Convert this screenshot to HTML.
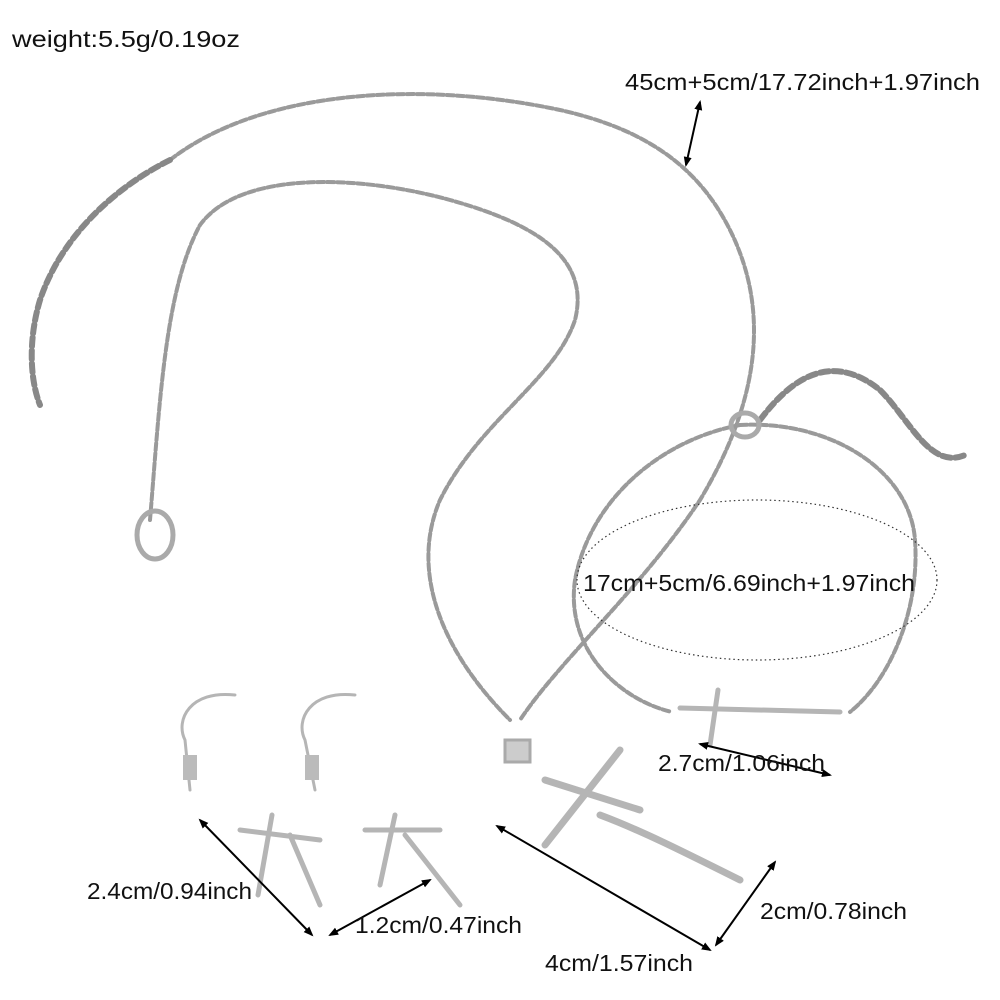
<!DOCTYPE html>
<html><head><meta charset="utf-8"><style>
html,body{margin:0;padding:0;background:#fff;}
svg{display:block}
text{font-family:"Liberation Sans",sans-serif;fill:#111;}
</style></head><body>
<svg width="1000" height="1000" viewBox="0 0 1000 1000" xmlns="http://www.w3.org/2000/svg">
<defs>
<marker id="a" markerWidth="10" markerHeight="10" refX="8" refY="5" orient="auto-start-reverse" markerUnits="userSpaceOnUse">
<path d="M0,1 L10,5 L0,9 Z" fill="#000"/></marker>
</defs>
<g fill="none" stroke="#9a9a9a" stroke-width="4" stroke-dasharray="7 3" stroke-linecap="round">
<path d="M170,160 C260,90 420,80 560,110 C650,130 700,170 730,230 C770,310 760,400 700,500 C640,590 560,660 520,720"/>
<path d="M170,160 C110,190 60,240 40,300 C28,340 30,380 40,405" stroke="#888" stroke-width="6" stroke-dasharray="9 4"/>
<path d="M150,520 C160,400 165,290 200,225 C240,170 360,175 450,200 C540,225 590,260 575,320 C555,380 480,420 440,500 C410,570 440,650 510,720"/>
<path d="M740,425 C660,440 590,500 575,580 C565,650 620,700 672,712"/>
<path d="M740,425 C830,420 910,470 915,540 C920,610 890,680 850,712"/>
<path d="M760,420 C790,380 830,350 880,390 C910,420 930,470 965,455" stroke="#888" stroke-width="6" stroke-dasharray="9 4"/>
</g>
<ellipse cx="155" cy="535" rx="18" ry="24" fill="none" stroke="#aaa" stroke-width="5"/>
<ellipse cx="745" cy="425" rx="14" ry="12" fill="none" stroke="#aaa" stroke-width="5"/>
<g stroke="#b5b5b5" stroke-width="7" fill="none" stroke-linecap="round">
<path d="M620,750 L545,845"/>
<path d="M545,780 L640,810"/>
<path d="M600,815 C640,830 680,850 740,880"/>
<rect x="505" y="740" width="25" height="22" fill="#ccc" stroke="#aaa" stroke-width="3"/>
<path d="M718,690 L710,745" stroke-width="5"/>
<path d="M680,708 L840,712" stroke-width="5"/>
<path d="M235,695 C190,690 175,720 185,740 L190,790" stroke-width="3"/>
<path d="M355,695 C310,690 295,720 305,740 L315,790" stroke-width="3"/>
<path d="M272,815 L258,895 M240,830 L320,840 M290,835 L320,905" stroke-width="5"/>
<path d="M395,815 L380,885 M365,830 L440,830 M405,835 L460,905" stroke-width="5"/>
</g>
<rect x="183" y="755" width="14" height="25" fill="#bbb"/>
<rect x="305" y="755" width="14" height="25" fill="#bbb"/>
<ellipse cx="757" cy="580" rx="180" ry="80" fill="none" stroke="#333" stroke-width="1.2" stroke-dasharray="1.5 3"/>
<g stroke="#000" stroke-width="2" marker-start="url(#a)" marker-end="url(#a)">
<line x1="700" y1="102" x2="686" y2="165"/>
<line x1="700" y1="744" x2="830" y2="775"/>
<line x1="200" y1="820" x2="312" y2="935"/>
<line x1="330" y1="935" x2="430" y2="880"/>
<line x1="497" y1="826" x2="710" y2="950"/>
<line x1="775" y1="862" x2="716" y2="945"/>
</g>
<g font-size="23">
<text x="12" y="47" textLength="228" lengthAdjust="spacingAndGlyphs">weight:5.5g/0.19oz</text>
<text x="625" y="90" textLength="355" lengthAdjust="spacingAndGlyphs">45cm+5cm/17.72inch+1.97inch</text>
<text x="583" y="591" textLength="332" lengthAdjust="spacingAndGlyphs">17cm+5cm/6.69inch+1.97inch</text>
<text x="658" y="771" textLength="167" lengthAdjust="spacingAndGlyphs">2.7cm/1.06inch</text>
<text x="87" y="899" textLength="165" lengthAdjust="spacingAndGlyphs">2.4cm/0.94inch</text>
<text x="355" y="933" textLength="167" lengthAdjust="spacingAndGlyphs">1.2cm/0.47inch</text>
<text x="545" y="971" textLength="148" lengthAdjust="spacingAndGlyphs">4cm/1.57inch</text>
<text x="760" y="919" textLength="147" lengthAdjust="spacingAndGlyphs">2cm/0.78inch</text>
</g>
</svg>
</body></html>
